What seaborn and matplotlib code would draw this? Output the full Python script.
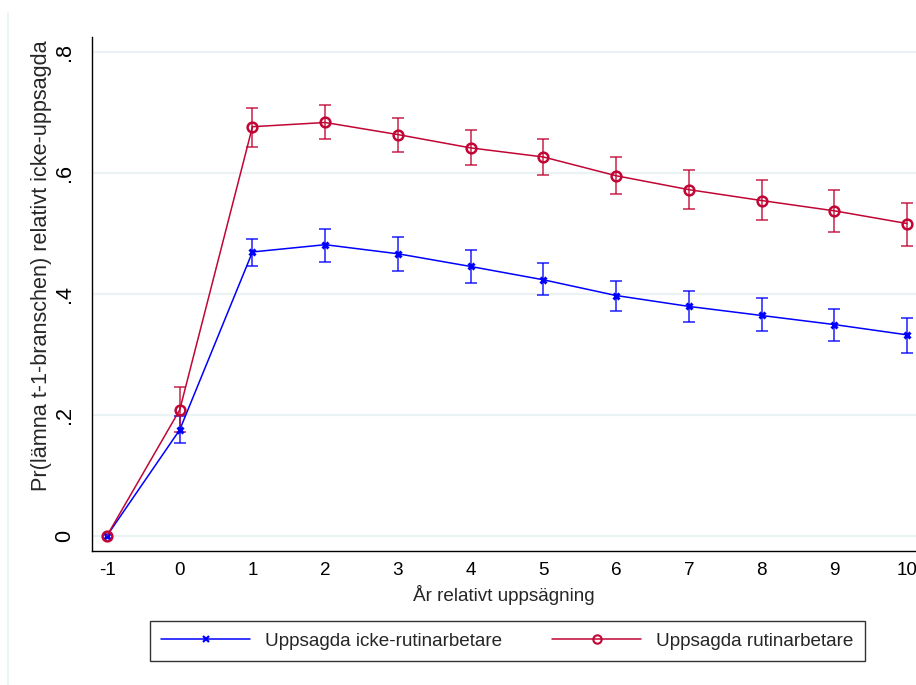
import numpy as np
import pandas as pd
import matplotlib
matplotlib.use("Agg")
import matplotlib.pyplot as plt
from matplotlib.lines import Line2D
import seaborn as sns

# Years relative to the layoff
years = [-1, 0, 1, 2, 3, 4, 5, 6, 7, 8, 9, 10]

# Laid-off non-routine workers: estimate and 95% CI
nonroutine = [0.0, 0.175, 0.469, 0.481, 0.466, 0.445, 0.423, 0.397, 0.379, 0.364, 0.349, 0.332]
nonroutine_lo = [0.0, 0.154, 0.445, 0.453, 0.438, 0.417, 0.398, 0.372, 0.354, 0.339, 0.321, 0.302]
nonroutine_hi = [0.0, 0.198, 0.491, 0.507, 0.493, 0.473, 0.450, 0.421, 0.405, 0.393, 0.375, 0.360]

# Laid-off routine workers: estimate and 95% CI
routine = [0.0, 0.208, 0.676, 0.683, 0.663, 0.641, 0.626, 0.595, 0.572, 0.554, 0.537, 0.516]
routine_lo = [0.0, 0.172, 0.643, 0.655, 0.635, 0.613, 0.597, 0.565, 0.540, 0.521, 0.502, 0.479]
routine_hi = [0.0, 0.245, 0.707, 0.712, 0.691, 0.671, 0.656, 0.626, 0.605, 0.588, 0.572, 0.550]

labels = ["Uppsagda icke-rutinarbetare", "Uppsagda rutinarbetare"]
yticks = [0, 0.2, 0.4, 0.6, 0.8]
ytick_labels = ["0", ".2", ".4", ".6", ".8"]

BLUE = "#0000ff"
RED = "#c10534"
GRID = "#eaf2f3"
FS_H = 13.6   # horizontal text
FS_V = 15.6   # vertical (rotated) text

sns.set_style("white")
plt.rcParams["font.family"] = ["Liberation Sans", "DejaVu Sans"]

df = pd.DataFrame({
    "year": years * 2,
    "est": nonroutine + routine,
    "lo": nonroutine_lo + routine_lo,
    "hi": nonroutine_hi + routine_hi,
    "group": [labels[0]] * len(years) + [labels[1]] * len(years),
})

fig = plt.figure(figsize=(9.16, 6.85), dpi=100)
ax = fig.add_axes([92 / 916, 1 - 551 / 685, 824 / 916, (551 - 37) / 685])

styles = {
    labels[0]: dict(color=BLUE, marker="x", markersize=5, markeredgewidth=2.2,
                    markerfacecolor=BLUE, markeredgecolor=BLUE),
    labels[1]: dict(color=RED, marker="o", markersize=7, markeredgewidth=1.8,
                    markerfacecolor="none", markeredgecolor=RED),
}

for name in labels:
    sub = df[df["group"] == name]
    st = styles[name]
    ci = sub[sub["year"] >= 0]
    ax.errorbar(ci["year"], ci["est"],
                yerr=[ci["est"] - ci["lo"], ci["hi"] - ci["est"]],
                fmt="none", ecolor=st["color"], elinewidth=1.3, capsize=4,
                capthick=1.3, alpha=0.75, zorder=2)
    sns.lineplot(data=sub, x="year", y="est", ax=ax, linewidth=1.1,
                 zorder=3, legend=False, **st)

ax.set_xlim(-1 - 15 / 72.7, 10 + 9 / 72.7)
ax.set_ylim(-15.3 / 605, (535.7 - 37) / 605)
ax.set_xticks(years)
ax.set_xticklabels([str(y) for y in years])
ax.set_yticks(yticks)
ax.set_yticklabels(ytick_labels, rotation=90, va="center", fontsize=FS_V)

ax.grid(axis="y", color=GRID, linewidth=1.6)
ax.grid(axis="x", visible=False)
ax.set_axisbelow(True)
for side in ["top", "right"]:
    ax.spines[side].set_visible(False)
for side in ["left", "bottom"]:
    ax.spines[side].set_color("black")
    ax.spines[side].set_linewidth(1.0)

ax.tick_params(axis="both", which="major", length=6, width=1.0, color="black",
               labelcolor="black")
ax.tick_params(axis="x", pad=2, labelsize=FS_H)
ax.tick_params(axis="y", pad=6)

ax.set_xlabel("År relativt uppsägning", fontsize=FS_H, labelpad=4)
ax.set_ylabel("Pr(lämna t-1-branschen) relativt icke-uppsagda", fontsize=FS_V)
ax.yaxis.set_label_coords(-0.048, 0.556)

handles = [
    Line2D([], [], color=BLUE, lw=1.1, marker="x", markersize=4,
           markeredgewidth=1.6),
    Line2D([], [], color=RED, lw=1.1, marker="o", markersize=6,
           markeredgewidth=1.5, markerfacecolor="none"),
]
leg = fig.legend(handles, labels, loc="lower left",
                 bbox_to_anchor=(150 / 916, 1 - 661 / 685, 715 / 916, 43 / 685),
                 mode="expand", ncol=2, frameon=True, fancybox=False,
                 edgecolor="black", fontsize=FS_H, handlelength=4.7,
                 borderaxespad=0, borderpad=0.6, handletextpad=0.8)
leg.get_frame().set_linewidth(1.0)

# faint outer border of the graph region
fig.add_artist(Line2D([8 / 916, 8 / 916], [0, 1 - 13 / 685], color=GRID,
                      lw=1.2, transform=fig.transFigure))

fig.savefig("out.png", dpi=100)
